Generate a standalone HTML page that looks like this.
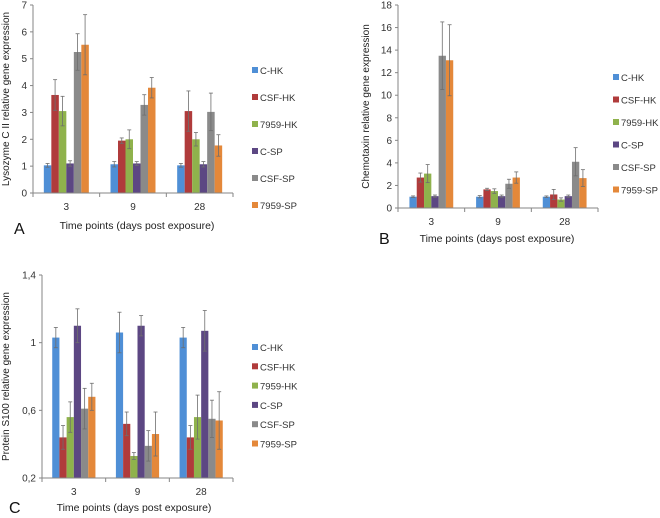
<!DOCTYPE html>
<html><head><meta charset="utf-8"><style>
html,body{margin:0;padding:0;background:#fff;}
svg{display:block;font-family:"Liberation Sans",Arial,sans-serif;}
</style></head><body>
<svg id="fig" width="660" height="518" viewBox="0 0 660 518"></svg>
<script>
const categories = ["3","9","28"];
const seriesNames = ["C-HK","CSF-HK","7959-HK","C-SP","CSF-SP","7959-SP"];
const seriesColors = ["#4F8FD6","#B03B3B","#8FB24C","#5C4783","#8A8A8A","#E4883A"];
// Chart A: Lysozyme C II
const aValues = [[1.03,1.07,1.03],[3.65,1.95,3.05],[3.05,2.0,2.0],[1.1,1.1,1.07],[5.25,3.28,3.02],[5.52,3.92,1.77]];
const aErrors = [[0.07,0.1,0.07],[0.57,0.1,0.75],[0.55,0.35,0.25],[0.1,0.07,0.1],[0.68,0.38,0.7],[1.12,0.38,0.4]];
const aTicks = [0,1,2,3,4,5,6,7];
const aTickLabels = ["0","1","2","3","4","5","6","7"];
// Chart B: Chemotaxin
const bValues = [[1.0,1.0,1.0],[2.7,1.65,1.2],[3.05,1.5,0.75],[1.05,1.05,1.05],[13.5,2.15,4.1],[13.1,2.7,2.65]];
const bErrors = [[0.07,0.1,0.07],[0.4,0.1,0.45],[0.8,0.2,0.15],[0.1,0.1,0.1],[3.0,0.4,1.25],[3.15,0.5,0.75]];
const bTicks = [0,2,4,6,8,10,12,14,16,18];
const bTickLabels = ["0","2","4","6","8","10","12","14","16","18"];
// Chart C: Protein S100
const cValues = [[1.03,1.06,1.03],[0.44,0.52,0.44],[0.56,0.33,0.56],[1.1,1.1,1.07],[0.61,0.39,0.55],[0.68,0.46,0.54]];
const cErrors = [[0.06,0.12,0.06],[0.07,0.07,0.07],[0.09,0.02,0.13],[0.1,0.06,0.12],[0.12,0.09,0.11],[0.08,0.13,0.17]];
const cTicks = [0.2,0.6,1.0,1.4];
const cTickLabels = ["0,2","0,6","1","1,4"];

const NS="http://www.w3.org/2000/svg";
const svg=document.getElementById('fig');
function mk(tag,attrs,parent,text){const e=document.createElementNS(NS,tag);for(const k in attrs)e.setAttribute(k,attrs[k]);if(text!==undefined)e.textContent=text;(parent||svg).appendChild(e);return e;}

function chart(cfg){
  const g=mk('g',{});
  
  
  const y=v=>cfg.y0+(v-cfg.vmin)/(cfg.vmax-cfg.vmin)*(cfg.y1-cfg.y0);
  const groupW=(cfg.xEnd-cfg.xAxis)/categories.length;
  const bw=cfg.bw;
  const x=(ci,si)=>cfg.xAxis+groupW*ci+groupW/2-bw*seriesNames.length/2+si*bw;
  // bars
  cfg.values.forEach((ser,si)=>ser.forEach((v,ci)=>{
    const r=mk('rect',{x:x(ci,si),y:y(v),width:bw,height:y(cfg.vmin)-y(v),fill:seriesColors[si]},g);
    
    
  }));
  // errors
  cfg.values.forEach((ser,si)=>ser.forEach((v,ci)=>{
    const e=cfg.errors[si][ci],cx=x(ci,si)+bw/2;
    const eg=mk('g',{stroke:'#6e6e6e','stroke-width':0.8},g);
    
    
    mk('line',{x1:cx,x2:cx,y1:y(v-e),y2:y(v+e)},eg);
    mk('line',{x1:cx-2,x2:cx+2,y1:y(v+e),y2:y(v+e)},eg);
    mk('line',{x1:cx-2,x2:cx+2,y1:y(v-e),y2:y(v-e)},eg);
  }));
  // axes
  const ax=mk('line',{x1:cfg.xAxis,x2:cfg.xAxis,y1:cfg.y1,y2:cfg.y0,stroke:'#868686','stroke-width':1},g);
  
  const xa=mk('line',{x1:cfg.xAxis,x2:cfg.xEnd,y1:cfg.y0,y2:cfg.y0,stroke:'#868686','stroke-width':1},g);
  
  cfg.ticks.forEach((t,i)=>{
    mk('line',{x1:cfg.xAxis-3,x2:cfg.xAxis,y1:y(t),y2:y(t),stroke:'#868686'},g);
    const tl=mk('text',{x:cfg.xAxis-6,y:y(t)+3.5,'text-anchor':'end','font-size':10,fill:'#333'},g,cfg.tickLabels[i]);
    
  });
  for(let i=0;i<=categories.length;i++){mk('line',{x1:cfg.xAxis+groupW*i,x2:cfg.xAxis+groupW*i,y1:cfg.y0,y2:cfg.y0+4,stroke:'#868686'},g);}
  categories.forEach((c,i)=>{
    const t=mk('text',{x:cfg.xAxis+groupW*i+groupW/2,y:cfg.y0+17,'text-anchor':'middle','font-size':10,fill:'#333'},g,c);
    
  });
  const xt=mk('text',{x:cfg.xTitleX,y:cfg.xTitleY,'text-anchor':'middle','font-size':10.5,fill:'#222'},g,'Time points (days post exposure)');
  
  const yt=mk('text',{x:0,y:0,'text-anchor':'middle','font-size':10,fill:'#222',transform:`translate(${cfg.yTitleX},${(cfg.y0+cfg.y1)/2}) rotate(-90)`},g,cfg.yTitle);
  
  const pl=mk('text',{x:cfg.panelX,y:cfg.panelY,'font-size':16,fill:'#111'},g,cfg.panel);
  
  // legend
  const lg=mk('g',{},g);
  
  seriesNames.forEach((n,i)=>{
    const ly=cfg.legY+i*cfg.legDy;
    const le=mk('g',{},lg);
    
    mk('rect',{x:cfg.legX,y:ly-4,width:6,height:6,fill:seriesColors[i]},le);
    mk('text',{x:cfg.legX+8,y:ly+3,'font-size':9.5,fill:'#333'},le,n);
  });
}
chart({name:'chart-a-lysozyme',values:aValues,errors:aErrors,ticks:aTicks,tickLabels:aTickLabels,vmin:0,vmax:7,y0:193,y1:5,xAxis:33,xEnd:233,bw:7.5,
  xTitleX:137,xTitleY:229,yTitle:'Lysozyme C II relative gene expression',yTitleX:9,panel:'A',panelX:14,panelY:234,legX:252,legY:71,legDy:27});
chart({name:'chart-b-chemotaxin',values:bValues,errors:bErrors,ticks:bTicks,tickLabels:bTickLabels,vmin:0,vmax:18,y0:208,y1:5,xAxis:398,xEnd:598,bw:7.3,
  xTitleX:497,xTitleY:242,yTitle:'Chemotaxin relative gene expression',yTitleX:369,panel:'B',panelX:379,panelY:244,legX:613,legY:78,legDy:22.5});
chart({name:'chart-c-protein-s100',values:cValues,errors:cErrors,ticks:cTicks,tickLabels:cTickLabels,vmin:0.2,vmax:1.4,y0:478,y1:275,xAxis:42,xEnd:233,bw:7.2,
  xTitleX:134,xTitleY:511,yTitle:'Protein S100 relative gene expression',yTitleX:9,panel:'C',panelX:9,panelY:513,legX:252,legY:348,legDy:19.3});
</script>
</body></html>
